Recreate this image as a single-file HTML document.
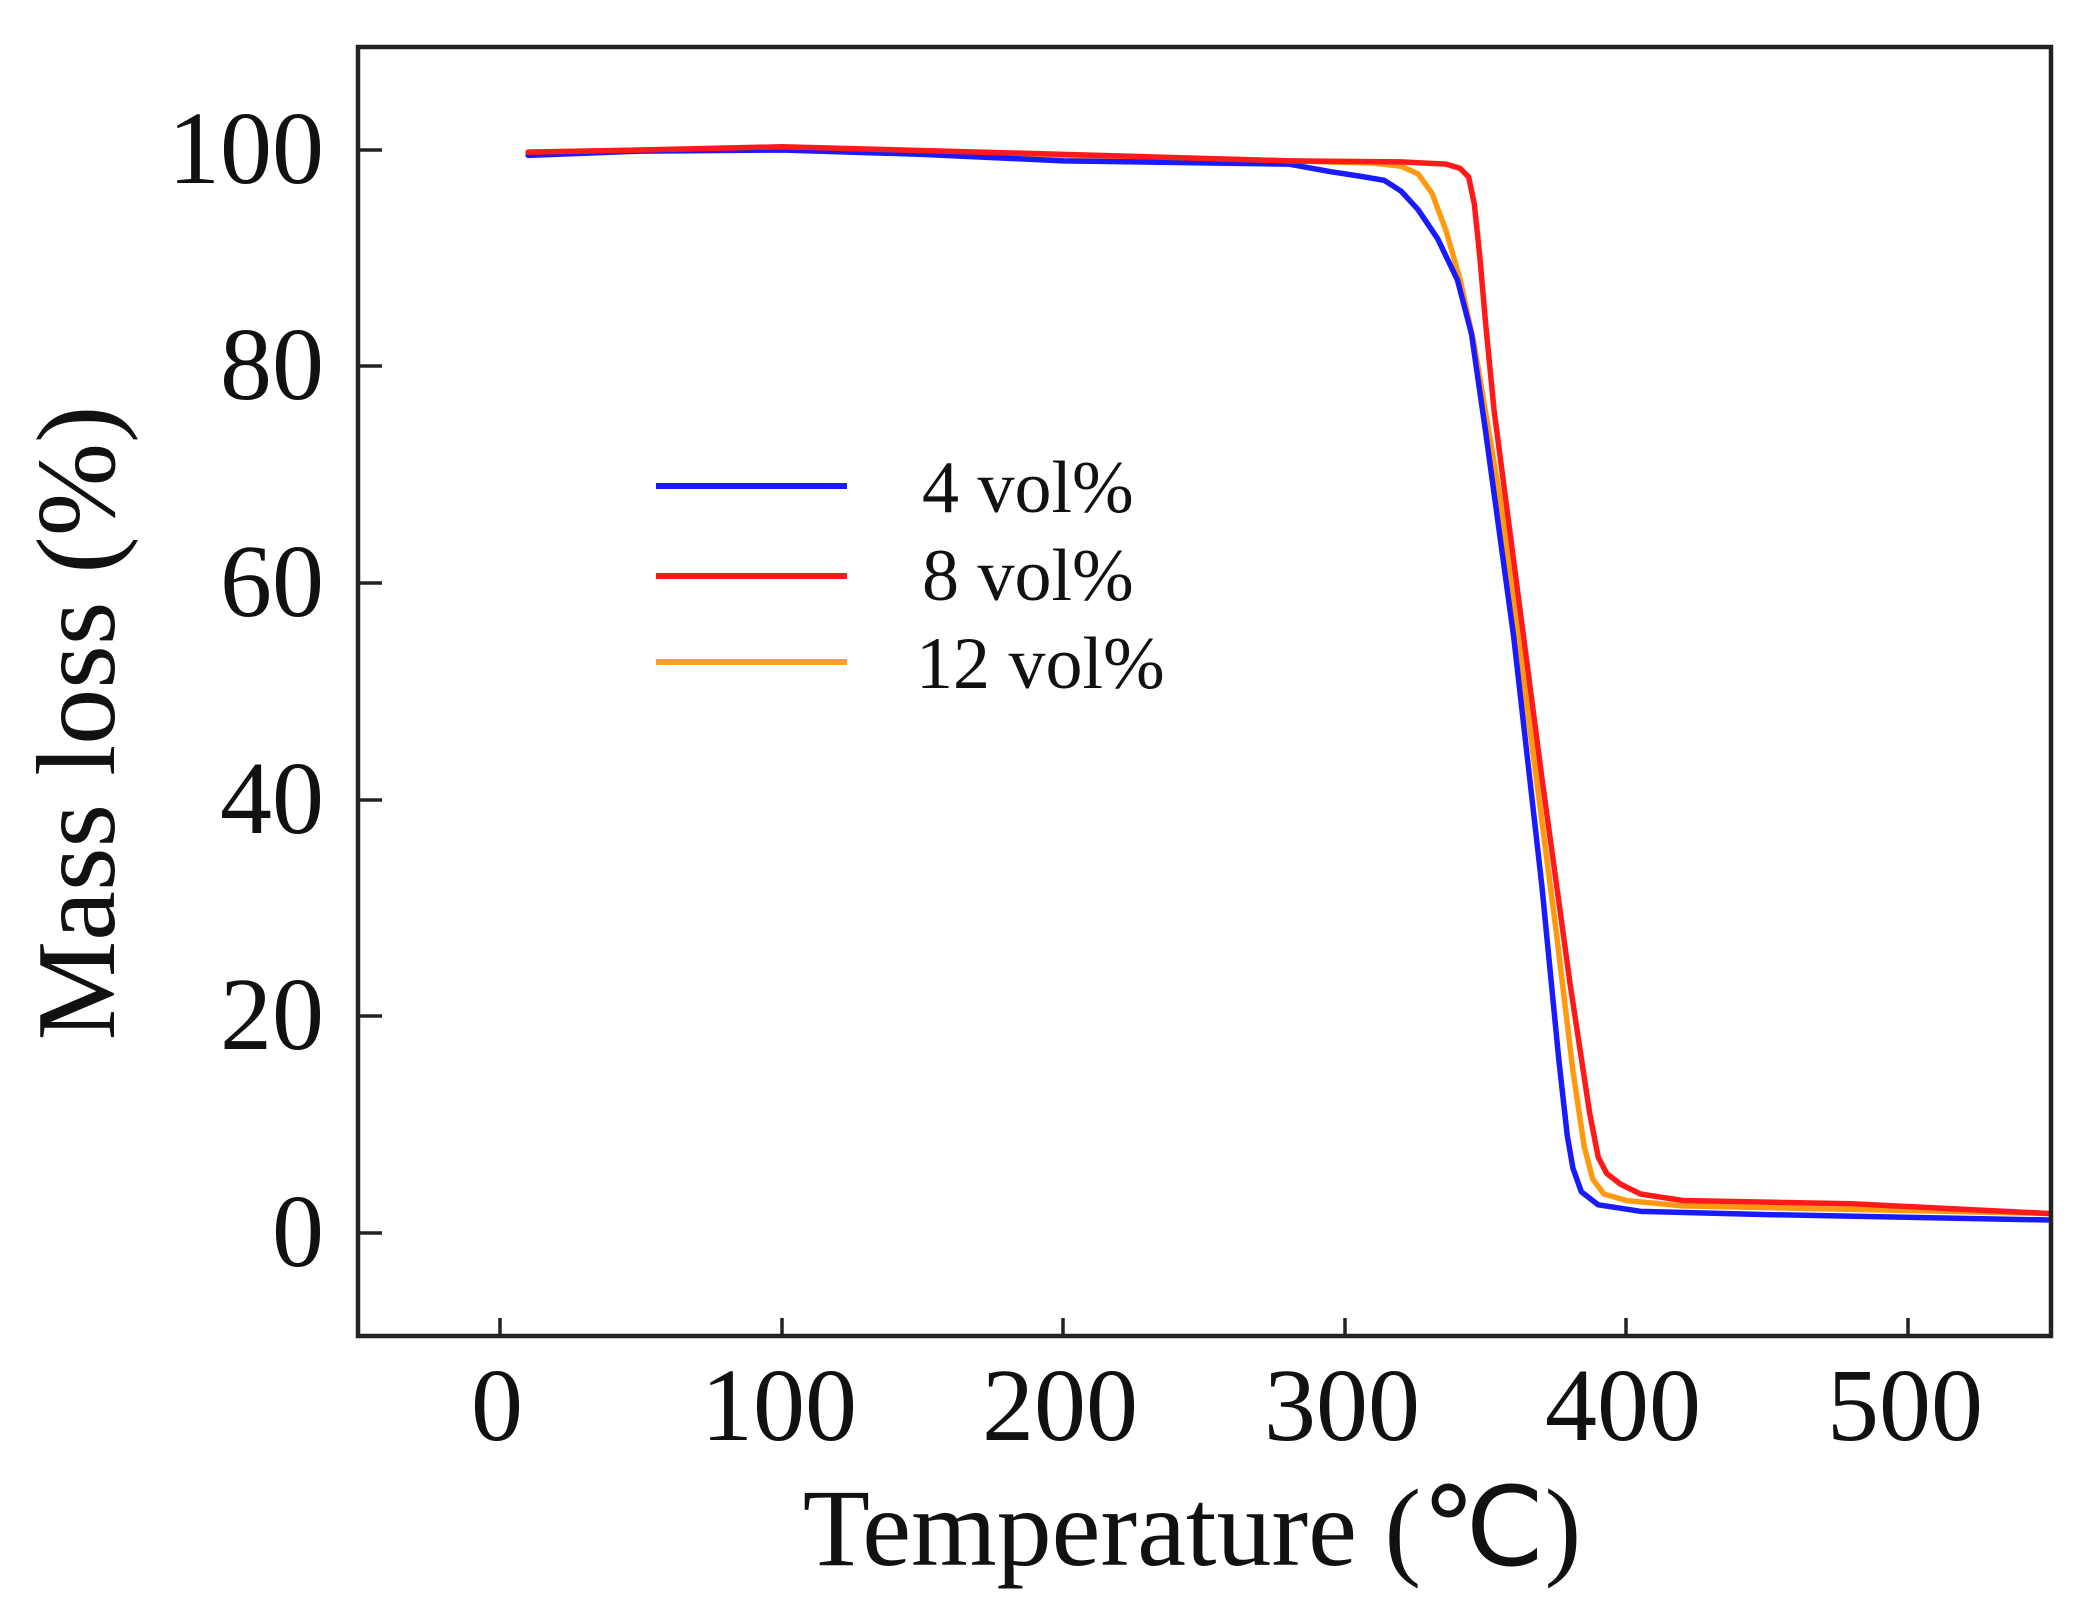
<!DOCTYPE html>
<html><head><meta charset="utf-8"><style>
html,body{margin:0;padding:0;background:#fff;}
svg{display:block;}
text{font-family:"Liberation Serif",serif;fill:#111;}
</style></head><body>
<svg width="2090" height="1605" viewBox="0 0 2090 1605" xmlns="http://www.w3.org/2000/svg">
<rect x="0" y="0" width="2090" height="1605" fill="#fff"/>
<g transform="translate(500,1233) scale(2.816,-10.83)" fill="none" stroke-linejoin="round" stroke-linecap="round">
<path vector-effect="non-scaling-stroke" stroke="#ff9a10" stroke-width="5.5" d="M10,99.8 L50,100 L100,100.1 L200,99.5 L280,99 L310,98.8 L320,98.5 L326,97.8 L331,96 L336,92.5 L341,88 L346,82 L355,68 L365,48 L375,28 L381,15 L385,8 L388,5 L392,3.6 L400,3 L420,2.5 L550,1.8"/>
<path vector-effect="non-scaling-stroke" stroke="#1a1aff" stroke-width="5.5" d="M10,99.5 L50,99.9 L100,100 L150,99.6 L200,99 L280,98.7 L295,98 L305,97.6 L314,97.2 L320,96.2 L326,94.5 L333,91.8 L340,88 L345,83 L350,74 L360,55 L370,32 L376,16 L379,9 L381,6 L384,3.8 L390,2.6 L405,2 L450,1.7 L550,1.2"/>
<path vector-effect="non-scaling-stroke" stroke="#ff1a1a" stroke-width="5.5" d="M10,99.8 L50,100 L100,100.3 L200,99.6 L280,99 L320,98.9 L336,98.7 L341,98.3 L344,97.5 L346,95 L348,90 L350,84 L353,76 L360,62 L370,42 L380,23 L387,11 L390,7 L393,5.5 L398,4.5 L405,3.6 L420,3 L480,2.7 L550,1.8"/>
</g>
<rect x="358" y="47" width="1693" height="1289" fill="none" stroke="#222" stroke-width="4.5"/>
<g stroke="#222" stroke-width="3.5">
<line x1="500" y1="1336" x2="500" y2="1318"/>
<line x1="782" y1="1336" x2="782" y2="1318"/>
<line x1="1063" y1="1336" x2="1063" y2="1318"/>
<line x1="1345" y1="1336" x2="1345" y2="1318"/>
<line x1="1626" y1="1336" x2="1626" y2="1318"/>
<line x1="1908" y1="1336" x2="1908" y2="1318"/>
<line x1="358" y1="150" x2="382" y2="150"/>
<line x1="358" y1="366" x2="382" y2="366"/>
<line x1="358" y1="583" x2="382" y2="583"/>
<line x1="358" y1="800" x2="382" y2="800"/>
<line x1="358" y1="1016" x2="382" y2="1016"/>
<line x1="358" y1="1233" x2="382" y2="1233"/>
</g>
<g font-size="104" text-anchor="end">
<text x="324" y="183">100</text>
<text x="324" y="399">80</text>
<text x="324" y="616">60</text>
<text x="324" y="833">40</text>
<text x="324" y="1049">20</text>
<text x="324" y="1266">0</text>
</g>
<g font-size="104" text-anchor="middle">
<text x="497" y="1440">0</text>
<text x="779" y="1440">100</text>
<text x="1060" y="1440">200</text>
<text x="1342" y="1440">300</text>
<text x="1623" y="1440">400</text>
<text x="1905" y="1440">500</text>
</g>
<text x="1192" y="1565" font-size="110" text-anchor="middle">Temperature (℃)</text>
<text transform="translate(114,723) rotate(-90)" font-size="112" text-anchor="middle">Mass loss  (%)</text>
<g stroke-width="6">
<line x1="656" y1="486" x2="847" y2="486" stroke="#1a1aff"/>
<line x1="656" y1="576" x2="847" y2="576" stroke="#ff1a1a"/>
<line x1="656" y1="662" x2="847" y2="662" stroke="#ff9f1a"/>
</g>
<g font-size="74">
<text x="922" y="512">4 vol%</text>
<text x="922" y="600">8 vol%</text>
<text x="916" y="688">12 vol%</text>
</g>
</svg>
</body></html>
